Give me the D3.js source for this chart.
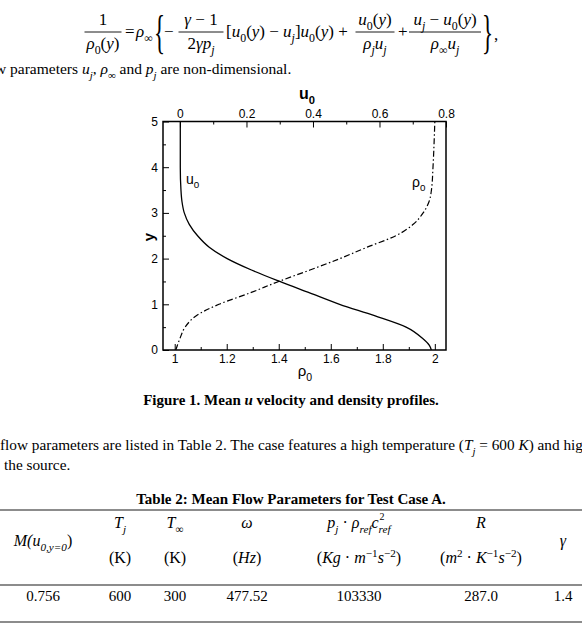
<!DOCTYPE html>
<html>
<head>
<meta charset="utf-8">
<script src="https://cdn.jsdelivr.net/npm/d3@7"></script>
<style>
  body { margin: 0; background: #fff; }
  svg { display: block; }
</style>
</head>
<body>
<svg id="page"></svg>
<script>
// profiles
var yVals   = [0, 0.1, 0.25, 0.5, 0.75, 1, 1.25, 1.5, 1.75, 2, 2.25, 2.5, 2.75, 3, 3.25, 3.5, 4, 4.5, 5];
var u0Vals  = [0.756, 0.75, 0.73, 0.68, 0.585, 0.48, 0.39, 0.30, 0.215, 0.142, 0.088, 0.053, 0.028, 0.013, 0.006, 0.003, 0.001, 0.001, 0.001];
var rhoVals = [1.004, 1.01, 1.02, 1.04, 1.083, 1.17, 1.29, 1.40, 1.52, 1.635, 1.74, 1.85, 1.917, 1.955, 1.978, 1.987, 1.993, 1.997, 2.0];

var rhoTicks = [1, 1.2, 1.4, 1.6, 1.8, 2];
var rhoMinor = [1.1, 1.3, 1.5, 1.7, 1.9];
var uTicks   = [0, 0.2, 0.4, 0.6, 0.8];
var uMinor   = [0.1, 0.3, 0.5, 0.7];
var yTicks   = [0, 1, 2, 3, 4, 5];
var yMinor   = [0.5, 1.5, 2.5, 3.5, 4.5];

// table 2
var colX      = [43, 120, 175, 247, 359, 481, 563];
var tblValues = ["0.756", "600", "300", "477.52", "103330", "287.0", "1.4"];

var W = 582, H = 638;
var svg = d3.select("#page").attr("width", W).attr("height", H);
svg.append("rect").attr("width", W).attr("height", H).attr("fill", "#fff");

var serif = "'Liberation Serif', 'Times New Roman', serif";
var sans  = "'Liberation Sans', Arial, sans-serif";

// text with italic / sub / sup pieces: [text, flags] flags: i italic, _ sub, ^ sup, b bold
function rich(parent, x, y, parts, size, family, anchor) {
    var t = parent.append("text")
        .attr("x", x).attr("y", y)
        .attr("font-family", family || serif)
        .attr("font-size", size)
        .attr("text-anchor", anchor || "start")
        .attr("fill", "#000");
    var shift = 0;
    parts.forEach(function(p) {
        var f = p[1] || "";
        var target = f.indexOf("_") >= 0 ? size * 0.3 : (f.indexOf("^") >= 0 ? -size * 0.4 : 0);
        var ts = t.append("tspan").text(p[0]).attr("dy", target - shift);
        shift = target;
        if (f.indexOf("i") >= 0) ts.attr("font-style", "italic");
        if (f.indexOf("b") >= 0) ts.attr("font-weight", "bold");
        if (target !== 0) ts.attr("font-size", size * 0.7);
    });
    return t;
}

function frac(parent, cx, num, den, barW, size) {
    rich(parent, cx, 25, num, size, serif, "middle");
    parent.append("line")
        .attr("x1", cx - barW / 2).attr("x2", cx + barW / 2)
        .attr("y1", 32).attr("y2", 32)
        .attr("stroke", "#000").attr("stroke-width", 0.9);
    rich(parent, cx, 49, den, size, serif, "middle");
}

function brace(parent, ch, x) {
    parent.append("text").text(ch)
        .attr("transform", "translate(" + x + ",48) scale(0.5,1)")
        .attr("font-family", serif).attr("font-size", 46);
}

// ---- equation
var eq = svg.append("g");
var es = 17;
frac(eq, 103, [["1"]], [["ρ", "i"], ["0", "_"], ["("], ["y", "i"], [")"]], 37, es);
rich(eq, 125, 37, [["="]], es);
rich(eq, 136, 37, [["ρ", "i"], ["∞", "_"]], es);
brace(eq, "{", 154);
rich(eq, 164, 37, [["−"]], es);
frac(eq, 201, [["γ", "i"], [" − 1"]], [["2"], ["γp", "i"], ["j", "i_"]], 45, es);
rich(eq, 226, 37, [["[", ""], ["u", "i"], ["0", "_"], ["("], ["y", "i"], [") − "], ["u", "i"], ["j", "i_"], ["]"],
                   ["u", "i"], ["0", "_"], ["("], ["y", "i"], [") +"]], es);
frac(eq, 375, [["u", "i"], ["0", "_"], ["("], ["y", "i"], [")"]], [["ρ", "i"], ["j", "i_"], ["u", "i"], ["j", "i_"]], 39, es);
rich(eq, 398, 37, [["+"]], es);
frac(eq, 445, [["u", "i"], ["j", "i_"], [" − "], ["u", "i"], ["0", "_"], ["("], ["y", "i"], [")"]], [["ρ", "i"], ["∞", "_"], ["u", "i"], ["j", "i_"]], 72, es);
brace(eq, "}", 482);
rich(eq, 494, 40, [[","]], es);

rich(svg, -5, 74, [["w parameters "], ["u", "i"], ["j", "i_"], [", "], ["ρ", "i"], ["∞", "_"], [" and "], ["p", "i"], ["j", "i_"],
                   [" are non-dimensional."]], 15.5);

// ---- figure 1
var x0 = 163, x1 = 446, yb = 350, yt = 121.5;
var xRho = d3.scaleLinear().domain([0.955, 2.043]).range([x0, x1]);
var xU   = d3.scaleLinear().domain([-0.051, 0.8]).range([x0, x1]);
var yS   = d3.scaleLinear().domain([0, 5]).range([yb, yt]);

var fig = svg.append("g").attr("font-family", sans);

fig.append("g").attr("transform", "translate(0," + yb + ")")
    .call(d3.axisBottom(xRho).tickValues(rhoTicks).tickSize(-6).tickPadding(4).tickFormat(d3.format("~g")));
fig.append("g").attr("transform", "translate(0," + yb + ")")
    .call(d3.axisBottom(xRho).tickValues(rhoMinor).tickSize(-3).tickFormat(""));
fig.append("g").attr("transform", "translate(0," + yt + ")")
    .call(d3.axisTop(xU).tickValues(uTicks).tickSize(-6).tickPadding(4).tickFormat(d3.format("~g")));
fig.append("g").attr("transform", "translate(0," + yt + ")")
    .call(d3.axisTop(xU).tickValues(uMinor).tickSize(-3).tickFormat(""));
fig.append("g").attr("transform", "translate(" + x0 + ",0)")
    .call(d3.axisLeft(yS).tickValues(yTicks).tickSize(-6).tickPadding(5).tickFormat(d3.format("d")));
fig.append("g").attr("transform", "translate(" + x0 + ",0)")
    .call(d3.axisLeft(yS).tickValues(yMinor).tickSize(-3).tickFormat(""));

fig.selectAll(".domain").remove();
fig.selectAll(".tick line").attr("stroke", "#000").attr("stroke-width", 1);
fig.selectAll(".tick text").attr("font-size", 12).attr("font-family", sans).attr("fill", "#000");

fig.append("rect")
    .attr("x", x0).attr("y", yt).attr("width", x1 - x0).attr("height", yb - yt)
    .attr("fill", "none").attr("stroke", "#000").attr("stroke-width", 1.5);

var lineU = d3.line()
    .x(function(d, i) { return xU(u0Vals[i]); })
    .y(function(d) { return yS(d); })
    .curve(d3.curveMonotoneY);
var lineRho = d3.line()
    .x(function(d, i) { return xRho(rhoVals[i]); })
    .y(function(d) { return yS(d); })
    .curve(d3.curveMonotoneY);

fig.append("path").datum(yVals).attr("d", lineU)
    .attr("fill", "none").attr("stroke", "#000").attr("stroke-width", 1.3);
fig.append("path").datum(yVals).attr("d", lineRho)
    .attr("fill", "none").attr("stroke", "#000").attr("stroke-width", 1.2)
    .attr("stroke-dasharray", "6,2.5,1.5,2.5");

// axis titles and curve labels
rich(fig, 307, 99, [["u", "b"], ["0", "b_"]], 16, sans, "middle");
rich(fig, 305, 376, [["ρ"], ["0", "_"]], 15, sans, "middle");
fig.append("text").text("y")
    .attr("transform", "translate(154,237) rotate(-90)")
    .attr("text-anchor", "middle").attr("font-weight", "bold").attr("font-size", 15);
rich(fig, 186, 184, [["u"], ["0", "_"]], 14, sans);
rich(fig, 412, 187, [["ρ"], ["0", "_"]], 14, sans);

// caption
rich(svg, 291, 405, [["Figure 1. Mean ", "b"], ["u", "bi"], [" velocity and density profiles.", "b"]], 15, serif, "middle");

// paragraph
rich(svg, 0, 450, [["flow parameters are listed in Table 2. The case features a high temperature ("], ["T", "i"], ["j", "i_"],
                   [" = 600 "], ["K", "i"], [") and high"]], 15.3);
rich(svg, 4, 470, [["the source."]], 15.3);

// ---- table 2
var tbl = svg.append("g");
rich(tbl, 291, 504, [["Table 2: Mean Flow Parameters for Test Case A.", "b"]], 15, serif, "middle");
[510, 585, 622].forEach(function(yy) {
    tbl.append("line").attr("x1", 0).attr("x2", W).attr("y1", yy).attr("y2", yy)
        .attr("stroke", "#666").attr("stroke-width", 1.3);
});

var head1 = [
    null,
    [["T", "i"], ["j", "i_"]],
    [["T", "i"], ["∞", "_"]],
    [["ω", "i"]],
    [["p", "i"], ["j", "i_"], [" · "], ["ρ", "i"], ["ref", "i_"], ["c", "i"], ["ref", "i_"]],
    [["R", "i"]],
    null
];
var head2 = [
    null,
    [["(K)"]],
    [["(K)"]],
    [["("], ["Hz", "i"], [")"]],
    [["("], ["Kg", "i"], [" · "], ["m", "i"], ["−1", "^"], ["s", "i"], ["−2", "^"], [")"]],
    [["("], ["m", "i"], ["2", "^"], [" · "], ["K", "i"], ["−1", "^"], ["s", "i"], ["−2", "^"], [")"]],
    null
];
head1.forEach(function(h, i) { if (h) rich(tbl, colX[i], 528, h, 16, serif, "middle"); });
head2.forEach(function(h, i) { if (h) rich(tbl, colX[i], 563, h, 16, serif, "middle"); });
rich(tbl, colX[0], 546, [["M(", "i"], ["u", "i"], ["0,y=0", "i_"], [")"]], 16, serif, "middle");
rich(tbl, colX[6], 546, [["γ", "i"]], 16, serif, "middle");
// superscript 2 over the c of the pressure column
rich(tbl, colX[4] + 23, 520, [["2"]], 10, serif, "middle");

tblValues.forEach(function(v, i) {
    rich(tbl, colX[i], 601, [[v]], 15, serif, "middle");
});
</script>
</body>
</html>
